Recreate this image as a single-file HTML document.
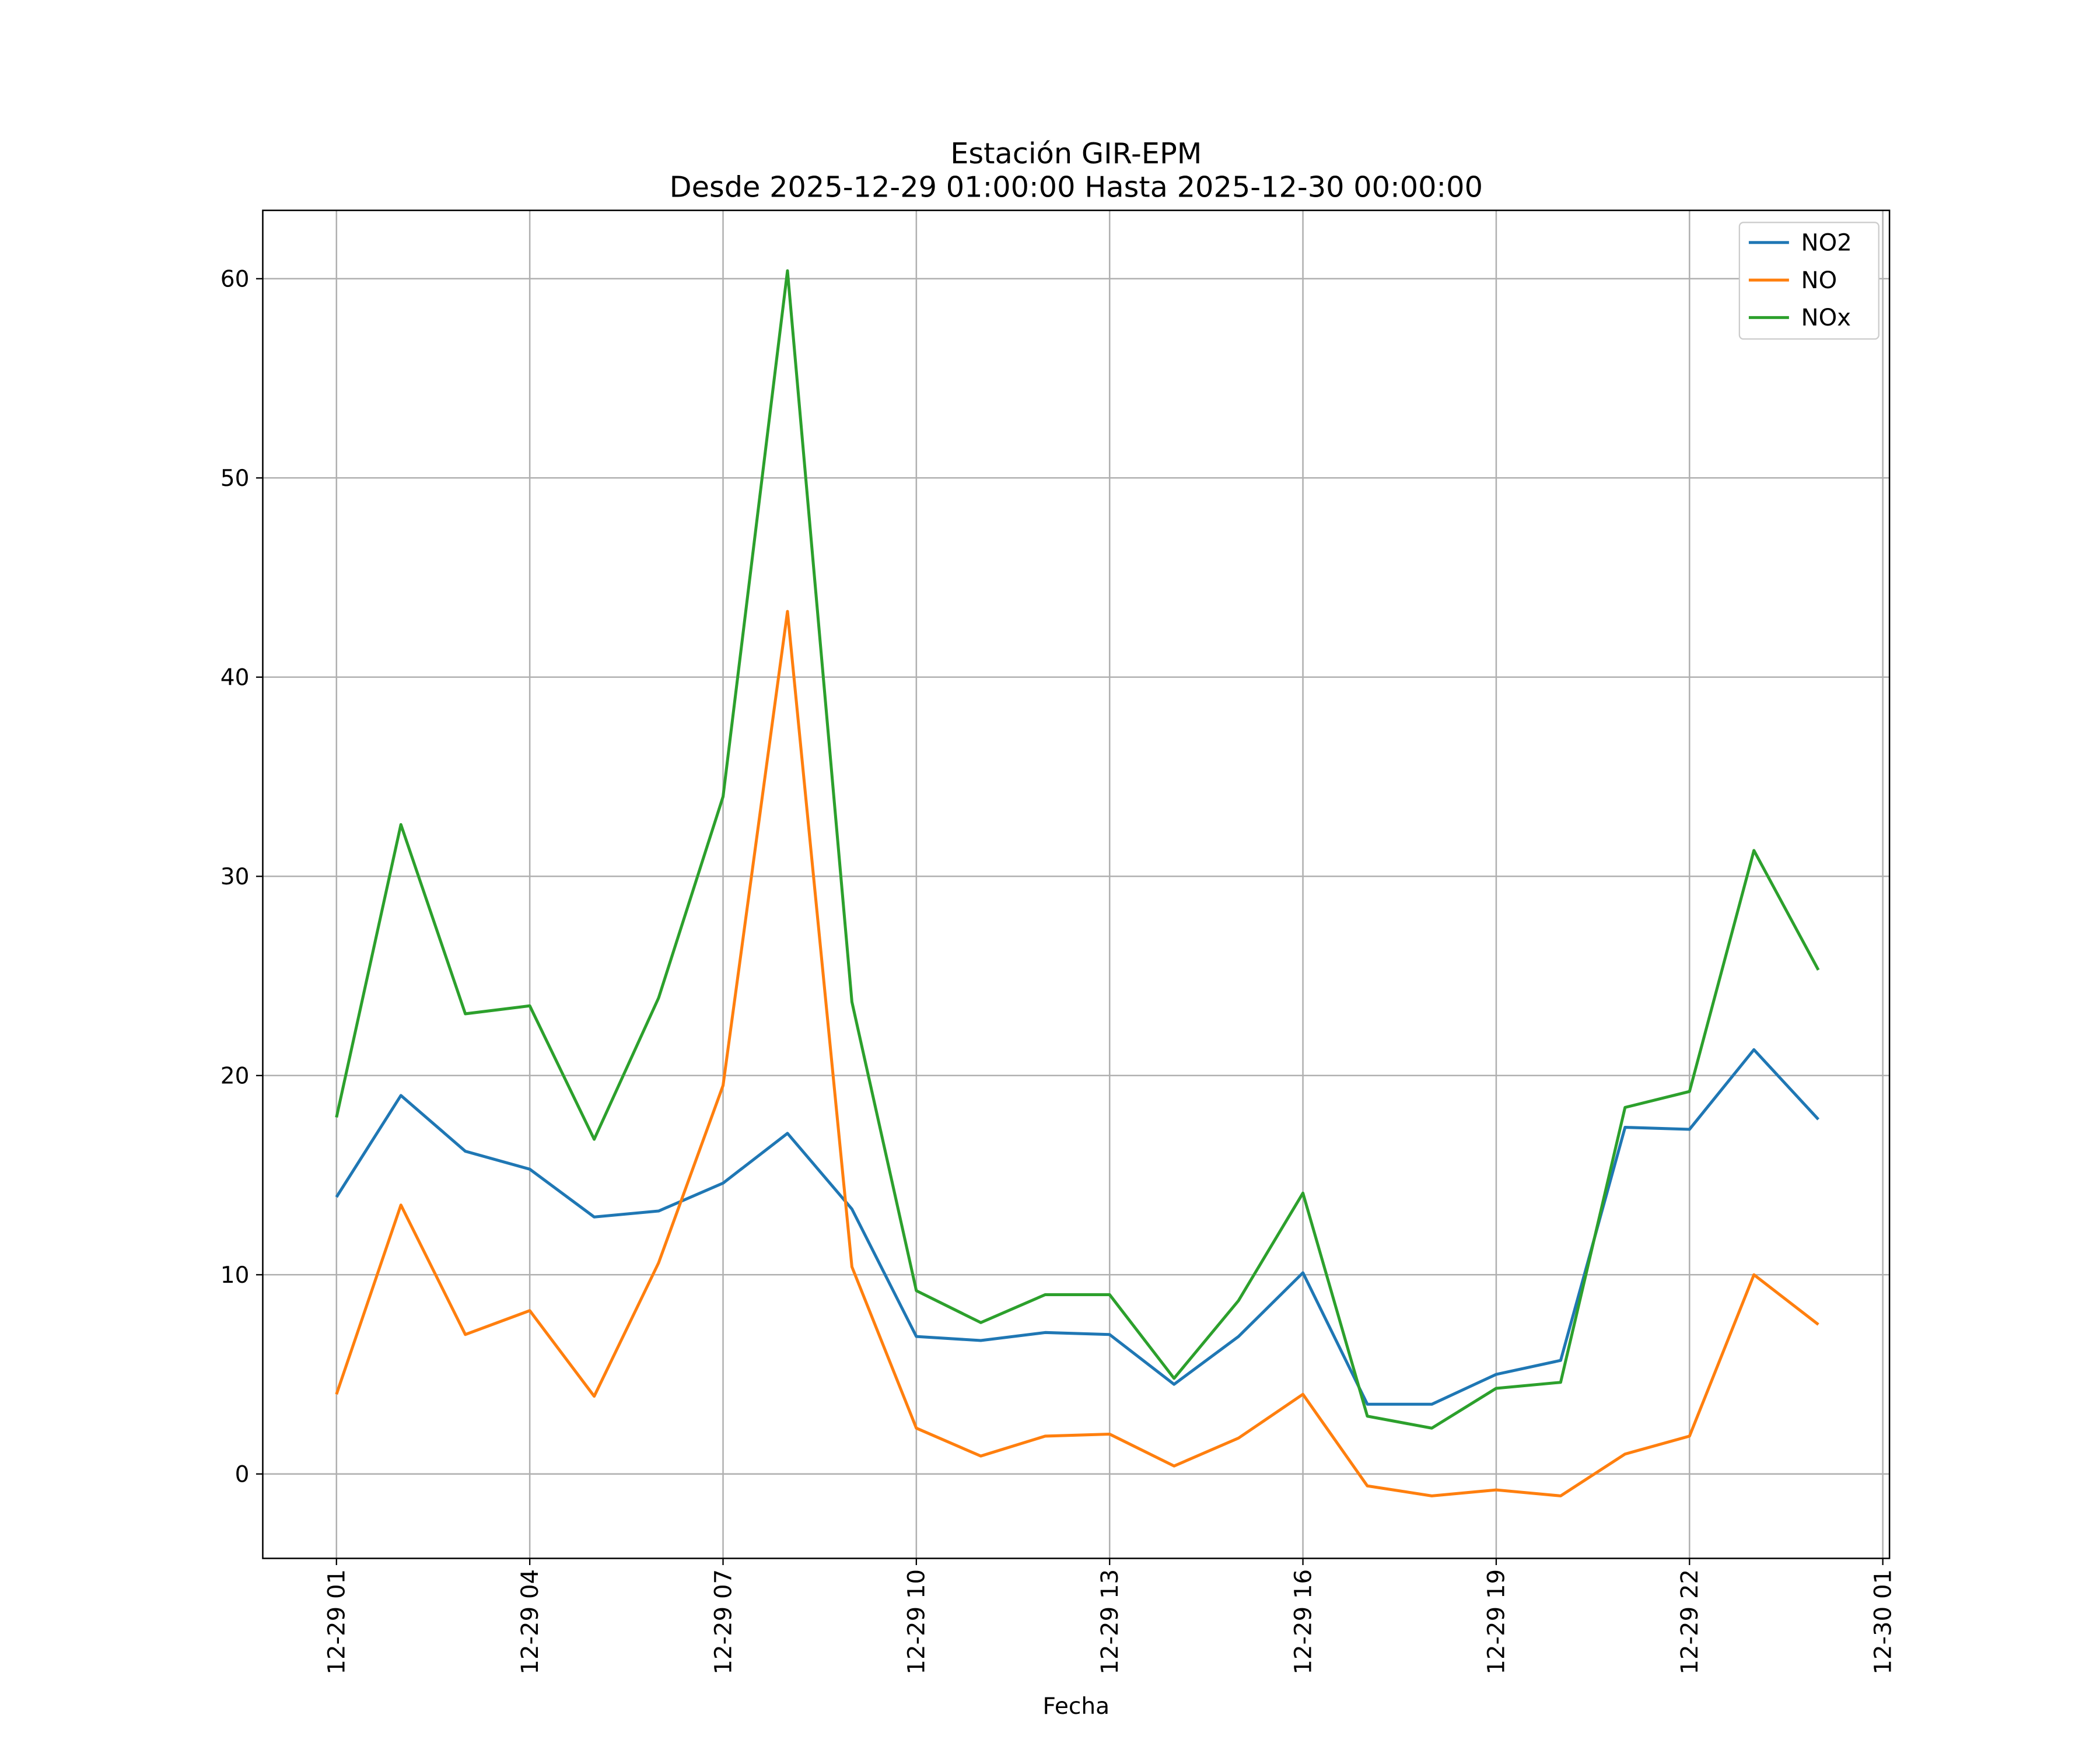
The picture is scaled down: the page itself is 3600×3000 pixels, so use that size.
<!DOCTYPE html>
<html><head><meta charset="utf-8"><style>html,body{margin:0;padding:0;background:#fff}svg{display:block}text{font-family:"DejaVu Sans","Liberation Sans",sans-serif;fill:#000}</style></head>
<body>
<svg id="chart" width="3600" height="3000" viewBox="0 0 1567 1306" xmlns="http://www.w3.org/2000/svg">
<rect width="1567" height="1306" fill="#fff"/>
<text x="803" y="122" font-size="21.5" text-anchor="middle">Estación GIR-EPM</text>
<text x="803" y="147" font-size="21.5" text-anchor="middle">Desde 2025-12-29 01:00:00 Hasta 2025-12-30 00:00:00</text>
<g id="grid"></g><g id="series"></g><g id="axes"></g>
<text x="803" y="1279" font-size="17" text-anchor="middle">Fecha</text>
<g>
<rect x="1298" y="166" width="104" height="87" fill="#fff" stroke="#ccc" rx="3"/>
<line x1="1305" y1="181" x2="1335" y2="181" stroke="#1f77b4" stroke-width="2.2"/><text x="1344" y="187" font-size="17.5">NO2</text>
<line x1="1305" y1="209" x2="1335" y2="209" stroke="#ff7f0e" stroke-width="2.2"/><text x="1344" y="215" font-size="17.5">NO</text>
<line x1="1305" y1="237" x2="1335" y2="237" stroke="#2ca02c" stroke-width="2.2"/><text x="1344" y="243" font-size="17.5">NOx</text>
</g>
</svg>
<script>
const hours = [1,2,3,4,5,6,7,8,9,10,11,12,13,14,15,16,17,18,19,20,21,22,23,24];
const no2 = [13.9,19.0,16.2,15.3,12.9,13.2,14.6,17.1,13.3,6.9,6.7,7.1,7.0,4.5,6.9,10.1,3.5,3.5,5.0,5.7,17.4,17.3,21.3,17.8];
const no = [4.0,13.5,7.0,8.2,3.9,10.6,19.5,43.3,10.4,2.3,0.9,1.9,2.0,0.4,1.8,4.0,-0.6,-1.1,-0.8,-1.1,1.0,1.9,10.0,7.5];
const nox = [17.9,32.6,23.1,23.5,16.8,23.9,34.0,60.4,23.7,9.2,7.6,9.0,9.0,4.8,8.7,14.1,2.9,2.3,4.3,4.6,18.4,19.2,31.3,25.3];
const yTicks = [0,10,20,30,40,50,60];
const xTickHours = [1,4,7,10,13,16,19,22,25];
const xTickLabels = ["12-29 01","12-29 04","12-29 07","12-29 10","12-29 13","12-29 16","12-29 19","12-29 22","12-30 01"];

const NS="http://www.w3.org/2000/svg";
const L=196,R=1410,T=157,B=1163;
const xs=h=>251+(h-1)*(1154/24);
const ys=v=>1100-v*(892/60);
function mk(tag,attrs,parent){const e=document.createElementNS(NS,tag);for(const k in attrs)e.setAttribute(k,attrs[k]);parent.appendChild(e);return e;}
const grid=document.getElementById('grid'),axes=document.getElementById('axes'),ser=document.getElementById('series');
xTickHours.forEach((h,i)=>{const x=xs(h);
 const g=mk('line',{x1:x,x2:x,y1:T,y2:B,stroke:'#b0b0b0','stroke-width':1.1},grid);
 
 
 mk('line',{x1:x,x2:x,y1:B,y2:B+5,stroke:'#000'},axes);
 const t=mk('text',{x:x+6,y:B+8,'font-size':17.5,'text-anchor':'end',transform:`rotate(-90 ${x+6} ${B+8})`},axes);
 t.textContent=xTickLabels[i];
 
 
});
yTicks.forEach(v=>{const y=ys(v);
 const g=mk('line',{x1:L,x2:R,y1:y,y2:y,stroke:'#b0b0b0','stroke-width':1.1},grid);
 
 
 mk('line',{x1:L-5,x2:L,y1:y,y2:y,stroke:'#000'},axes);
 const t=mk('text',{x:L-10,y:y+6,'font-size':17,'text-anchor':'end'},axes);
 t.textContent=v;
 
 
});
const frame=mk('rect',{x:L,y:T,width:R-L,height:B-T,fill:'none',stroke:'#000','stroke-width':1.1},axes);


[[no2,'#1f77b4','line-no2'],[no,'#ff7f0e','line-no'],[nox,'#2ca02c','line-nox']].forEach(([d,c,n])=>{
 const p=mk('polyline',{points:d.map((v,i)=>xs(hours[i])+','+ys(v)).join(' '),fill:'none',stroke:c,'stroke-width':2.2,'stroke-linejoin':'round'},ser);
 
 
});
</script>
</body></html>
